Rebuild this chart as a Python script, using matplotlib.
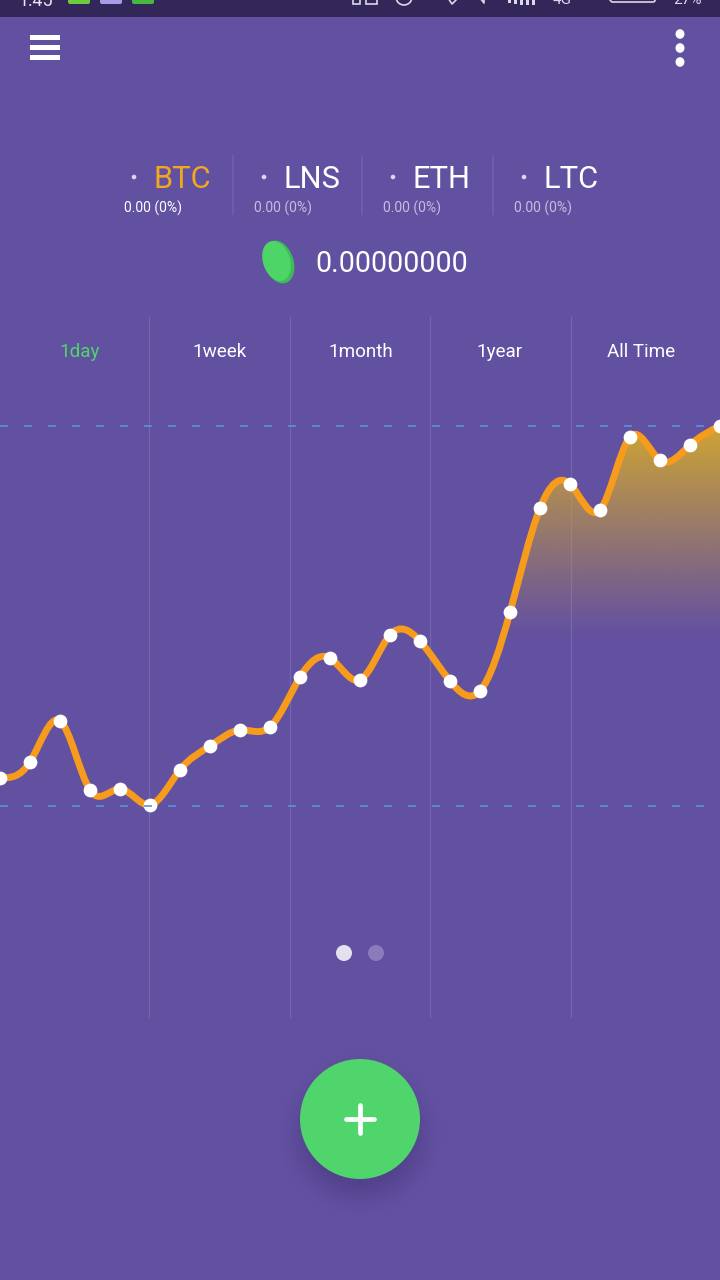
import numpy as np
import matplotlib
matplotlib.use("Agg")
import matplotlib.pyplot as plt
from matplotlib.patches import Circle, Ellipse, Rectangle, FancyBboxPatch, PathPatch
from matplotlib.path import Path

plt.rcParams['font.family'] = ['Roboto', 'DejaVu Sans']

# ---- data ----
values = [7.4, 11.6, 22.4, 4.2, 4.5, 0.3, 9.5, 15.8, 20.0, 20.8, 33.9, 38.9, 33.2,
          45.0, 43.4, 32.9, 30.3, 51.0, 78.4, 84.7, 77.9, 97.1, 91.0, 95.0, 100.0]
periods = ["1day", "1week", "1month", "1year", "All Time"]
coins = ["BTC", "LNS", "ETH", "LTC"]
changes = ["0.00 (0%)", "0.00 (0%)", "0.00 (0%)", "0.00 (0%)"]
balance = "0.00000000"
fill_start_index = 17

BG = "#6250A1"
W, H = 720, 1280
fig = plt.figure(figsize=(7.2, 12.8), dpi=100, facecolor=BG)

# page layer in pixel coordinates
ax = fig.add_axes([0, 0, 1, 1], zorder=1)
ax.set_xlim(0, W); ax.set_ylim(H, 0); ax.axis("off")

# status bar
ax.add_patch(Rectangle((0, 0), W, 17, fc="#33275A", ec="none"))
ax.text(36, 1, "1:45", color="#E8E4F0", fontsize=13, ha="center", va="center", clip_on=True)
for x, c in zip([67, 99, 131], ["#6CCB3C", "#A79BE8", "#46B83E"]):
    ax.add_patch(FancyBboxPatch((x + 1, -6), 22, 10, boxstyle="round,pad=0,rounding_size=2", fc=c, ec="none"))
for x, w in zip([353, 366], [7, 11]):
    ax.add_patch(Rectangle((x, -2), w, 6, fc="none", ec="#DDD8E8", lw=1.2))
ax.add_patch(Circle((404, -3), 8, fc="none", ec="#DDD8E8", lw=1.2))
ax.plot([448, 452, 458], [-2, 4, -2], color="#DDD8E8", lw=1.2)
ax.plot([480, 484, 484], [-2, 3, -2], color="#DDD8E8", lw=1.2)
for x, h in zip([508, 514, 520, 526, 532], [3, 4, 5, 5, 5]):
    ax.add_patch(Rectangle((x, 0), 3, h, fc="#DDD8E8", ec="none"))
ax.text(562, 0, "4G", color="#DDD8E8", fontsize=11, ha="center", va="center")
ax.add_patch(FancyBboxPatch((610, -8), 46, 10, boxstyle="round,pad=0,rounding_size=3", fc="none", ec="#DDD8E8", lw=1.2))
ax.text(688, 0, "27%", color="#DDD8E8", fontsize=11, ha="center", va="center")

# menu + overflow icons
for y in [35, 45, 55]:
    ax.add_patch(Rectangle((30, y), 30, 5, fc="white", ec="none"))
for y in [34, 48, 62]:
    ax.add_patch(Ellipse((680, y), 9, 9.6, fc="white", ec="none"))

# coin tabs
name_x = [153.5, 283.5, 412.5, 543.5]
dot_x = [134, 264, 393, 524]
change_x = [124, 254, 383, 514]
for i, c in enumerate(coins):
    ax.text(name_x[i], 179, c, color="#EFA81F" if i == 0 else "white", fontsize=22.2,
            ha="left", va="center")
    ax.add_patch(Circle((dot_x[i], 177), 2.3, fc="#DCD8EC", ec="none"))
    ax.text(change_x[i], 208, changes[i], color="white" if i == 0 else "#C6BEE0", fontsize=10,
            ha="left", va="center")
for x in [233, 362, 493]:
    ax.plot([x, x], [155, 215], color="#7162B8", lw=1.1, solid_capstyle="butt")

# balance with coin
ax.add_patch(Ellipse((279, 262), 29, 44, angle=-18, fc="#3DBD57", ec="none"))
ax.add_patch(Ellipse((276.5, 261), 27, 41, angle=-18, fc="#4DD567", ec="none"))
ax.text(315, 264, balance, color="white", fontsize=20.6, ha="left", va="center")

# period tabs
grid_x = [149, 290, 430, 571]
period_x = [79.5, 219.5, 360.5, 500, 641]
for x, p, c in zip(period_x, periods, ["#4FD56C"] + ["white"] * 4):
    ax.text(x, 352, p, color=c, fontsize=13.6, ha="center", va="center")
for x in grid_x:
    ax.plot([x, x], [316, 1018], color="#7466AE", lw=0.9, solid_capstyle="butt", zorder=1)

# pagination
ax.add_patch(Circle((344, 953), 8, fc="#E4E0F0", ec="none"))
ax.add_patch(Circle((376, 953), 8, fc="#8A7CBC", ec="none"))

# FAB shadow
yy, xx = np.mgrid[1040:1240, 270:450]
d = np.hypot(xx - 360, yy - 1134)
shadow = np.zeros(d.shape + (4,))
shadow[..., 0:3] = np.array([50, 35, 95]) / 255
shadow[..., 3] = 0.3 * np.clip((84 - d) / 34, 0, 1) ** 1.6
ax.imshow(shadow, extent=(270, 450, 1240, 1040), zorder=3, interpolation="bilinear", aspect="auto")
ax.set_xlim(0, W); ax.set_ylim(H, 0)
ax.add_patch(Circle((360, 1119), 60, fc="#4FD56C", ec="none", zorder=4))
ax.plot([346, 374], [1119, 1119], color="white", lw=3.4, solid_capstyle="round", zorder=5)
ax.plot([360, 360], [1105, 1133], color="white", lw=3.4, solid_capstyle="round", zorder=5)

# chart layer: x = index (0..24 across the width), y = value (0 at lower dashed line, 100 at upper)
y_low, y_high = 806, 426
cax = fig.add_axes([0, 1 - y_low / H, 1, (y_low - y_high) / H], zorder=2)
cax.patch.set_alpha(0)
cax.axis("off")
n = len(values)
cax.set_xlim(0, n - 1)
cax.set_ylim(0, 100)

xs = np.arange(n, dtype=float)
ys = np.array(values, dtype=float)


def natural_slopes(ya):
    """First derivatives of the natural cubic spline through equally spaced points."""
    m = len(ya)
    A = np.zeros((m, m))
    b = np.zeros(m)
    A[0, 0], A[0, 1] = 2, 1
    b[0] = 3 * (ya[1] - ya[0])
    A[-1, -1], A[-1, -2] = 2, 1
    b[-1] = 3 * (ya[-1] - ya[-2])
    for i in range(1, m - 1):
        A[i, i - 1], A[i, i], A[i, i + 1] = 1, 4, 1
        b[i] = 3 * (ya[i + 1] - ya[i - 1])
    return np.linalg.solve(A, b)


slopes = natural_slopes(ys)


def spline_path(start):
    verts = [(xs[start], ys[start])]
    codes = [Path.MOVETO]
    for i in range(start, n - 1):
        verts.append((xs[i] + 1 / 3, ys[i] + slopes[i] / 3))
        verts.append((xs[i + 1] - 1 / 3, ys[i + 1] - slopes[i + 1] / 3))
        verts.append((xs[i + 1], ys[i + 1]))
        codes += [Path.CURVE4] * 3
    return verts, codes


verts, codes = spline_path(0)
line = Path(verts, codes)

# gradient fill under the last points
k = fill_start_index
fv, fc_ = spline_path(k)
floor = 43.5
fv2 = list(fv) + [(xs[-1], floor), (xs[k], floor), (xs[k], ys[k])]
fc2 = list(fc_) + [Path.LINETO, Path.LINETO, Path.CLOSEPOLY]
clip = PathPatch(Path(fv2, fc2), transform=cax.transData, fc="none", ec="none")
cax.add_patch(clip)
grad = np.zeros((256, 2, 4))
grad[..., 0:3] = np.array([208, 165, 50]) / 255
grad[..., 3] = np.linspace(1, 0, 256)[:, None] ** 1.1
im = cax.imshow(grad, extent=(xs[k], xs[-1], floor, 100), aspect="auto", zorder=2, interpolation="bilinear")
im.set_clip_path(clip)
cax.set_xlim(0, n - 1); cax.set_ylim(0, 100)

cax.add_patch(PathPatch(line, fc="none", ec="#F79B1C", lw=5.0, zorder=3, capstyle="round", clip_on=False))
cax.scatter(xs, ys, s=98, c="white", linewidths=0, zorder=4, clip_on=False)
for v in [0, 100]:
    cax.plot([0, 23.5], [v, v], color="#5E8FE0", lw=1.2, dashes=(4.8, 9.6), zorder=5, clip_on=False)

fig.savefig("out.png", dpi=100, facecolor=BG)
